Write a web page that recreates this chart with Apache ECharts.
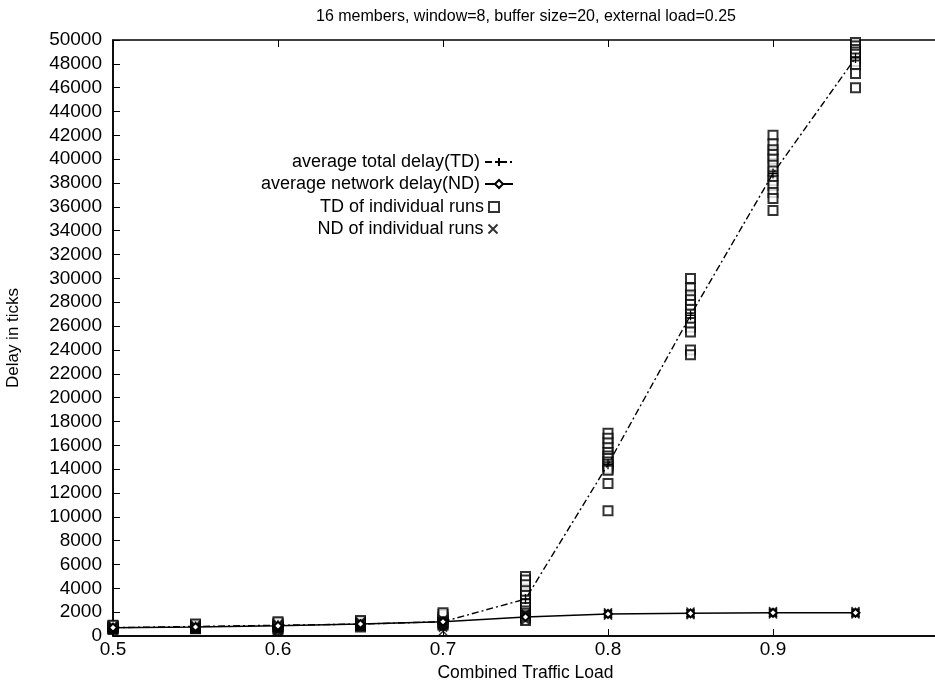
<!DOCTYPE html>
<html>
<head>
<meta charset="utf-8">
<script src="https://cdn.jsdelivr.net/npm/echarts@6/dist/echarts.min.js"></script>
<style>
  html, body { margin: 0; padding: 0; background: #fff; }
  #chart { width: 935px; height: 680px; }
</style>
</head>
<body>
<div id="chart"></div>
<script>
// combined traffic load (x)
const loads = [0.5, 0.55, 0.6, 0.65, 0.7, 0.75, 0.8, 0.85, 0.9, 0.95];
// average delays
const avgTD = [700, 800, 900, 1000, 1200, 3100, 14400, 26900, 38800, 48500];
const avgND = [700, 750, 850, 1000, 1200, 1600, 1850, 1900, 1950, 1950];
// individual runs, one list per load
const tdRuns = [
  [550, 600, 650, 700, 750, 800, 850, 900],
  [600, 650, 700, 750, 800, 850, 900, 1000],
  [500, 650, 750, 800, 900, 1000, 1100, 1200],
  [750, 850, 900, 950, 1000, 1100, 1200, 1300],
  [900, 1000, 1100, 1200, 1400, 1600, 1800, 1950],
  [5000, 4700, 4300, 3800, 3400, 3000, 2700, 2400, 2100, 1900, 1700, 1500, 1300],
  [17000, 16600, 16200, 15800, 15400, 15100, 14900, 14600, 14400, 14200, 14000, 13900, 12800, 10500],
  [30000, 29200, 28600, 28200, 27800, 27400, 27000, 26700, 26300, 25900, 25500, 24000, 23600],
  [42000, 41300, 40800, 40400, 40000, 39500, 39000, 38600, 38200, 37800, 37200, 36700, 35700],
  [49800, 49500, 49200, 49000, 48800, 48500, 48200, 47900, 47200, 46000]
];
const ndRuns = [
  [550, 650, 700, 750, 850],
  [600, 700, 750, 800, 900],
  [400, 600, 800, 900, 1000],
  [800, 900, 1000, 1100, 1200],
  [400, 700, 1000, 1200, 1400],
  [1300, 1450, 1600, 1750, 1900],
  [1700, 1800, 1850, 1900, 2000],
  [1750, 1850, 1900, 1950, 2050],
  [1800, 1900, 1950, 2000, 2100],
  [1800, 1900, 1950, 2000, 2100]
];
const yTicks = { min: 0, max: 50000, step: 2000 };

const font = 'Liberation Sans, Arial, Helvetica, sans-serif';
const plus = 'path://M0,5L10,5M5,0L5,10';
const cross = 'path://M0,0L10,10M10,0L0,10';

const pairs = (xs, ys) => xs.map((x, i) => [x, ys[i]]);
const runPoints = (runs) => {
  const pts = [];
  runs.forEach((vals, i) => vals.forEach(v => pts.push([loads[i], v])));
  return pts;
};

const legendText = { color: '#000', fontSize: 18, fontFamily: font };
const mkLegend = (item, top, right, w, h) => ({
  data: [item], top: top, right: right, align: 'right', orient: 'vertical',
  itemWidth: w, itemHeight: h, itemGap: 0, textStyle: legendText, selectedMode: false
});

const chart = echarts.init(document.getElementById('chart'));
chart.setOption({
  animation: false,
  backgroundColor: '#fff',
  title: {
    text: '16 members, window=8, buffer size=20, external load=0.25',
    left: 521, top: 4, textAlign: 'center',
    textStyle: { color: '#000', fontSize: 16, fontWeight: 'normal', fontFamily: font }
  },
  legend: [
    mkLegend('average total delay(TD)', 148, 416, 28, 10),
    mkLegend('average network delay(ND)', 170, 416, 28, 10),
    mkLegend({ name: 'TD of individual runs', icon: 'emptyRect' }, 193, 430, 10, 10),
    mkLegend({ name: 'ND of individual runs', icon: cross }, 215, 430, 9, 9)
  ],
  grid: {
    left: 113, right: -3, top: 40, bottom: 44,
    outerBoundsMode: 'none', containLabel: false,
    show: true, borderColor: '#000', borderWidth: 1.5
  },
  xAxis: [{
    type: 'value', min: 0.5, max: 1.0, interval: 0.1,
    name: 'Combined Traffic Load', nameLocation: 'middle', nameGap: 28,
    nameTextStyle: { color: '#000', fontSize: 17.5, fontFamily: font },
    axisLine: { lineStyle: { color: '#000', width: 1.5 } },
    axisTick: { inside: true, length: 7, lineStyle: { color: '#000' } },
    axisLabel: {
      color: '#000', fontSize: 19, fontFamily: font, margin: 4,
      formatter: v => (v >= 0.99 ? '' : v.toFixed(1))
    },
    splitLine: { show: false }
  }, {
    type: 'value', position: 'top', min: 0.5, max: 1.0, interval: 0.1,
    axisLine: { show: false },
    axisTick: { inside: true, length: 7, lineStyle: { color: '#000' } },
    axisLabel: { show: false },
    splitLine: { show: false }
  }],
  yAxis: {
    type: 'value', min: yTicks.min, max: yTicks.max, interval: yTicks.step,
    name: 'Delay in ticks', nameLocation: 'middle', nameGap: 91,
    nameTextStyle: { color: '#000', fontSize: 17, fontFamily: font },
    axisLine: { show: true, lineStyle: { color: '#000', width: 1.5 } },
    axisTick: { show: true, inside: true, length: 7, lineStyle: { color: '#000' } },
    axisLabel: {
      color: '#000', fontSize: 19, fontFamily: font, margin: 11,
      formatter: v => String(v)
    },
    splitLine: { show: false }
  },
  series: [
    {
      name: 'TD of individual runs', type: 'scatter',
      data: runPoints(tdRuns),
      symbol: 'emptyRect', symbolSize: 9,
      itemStyle: { color: '#000', borderColor: '#000', borderWidth: 1.5 },
      z: 3
    },
    {
      name: 'ND of individual runs', type: 'scatter',
      data: runPoints(ndRuns),
      symbol: cross, symbolSize: 8,
      itemStyle: { color: 'none', borderColor: '#000', borderWidth: 1.5 },
      z: 3
    },
    {
      name: 'average total delay(TD)', type: 'line',
      data: pairs(loads, avgTD),
      symbol: plus, symbolSize: 10, showAllSymbol: true,
      lineStyle: { color: '#000', width: 1.4, type: [7, 3, 2, 3] },
      itemStyle: { color: 'none', borderColor: '#000', borderWidth: 1.3 },
      z: 4
    },
    {
      name: 'average network delay(ND)', type: 'line',
      data: pairs(loads, avgND),
      symbol: 'emptyDiamond', symbolSize: 8, showAllSymbol: true,
      lineStyle: { color: '#000', width: 1.5 },
      itemStyle: { color: '#000', borderColor: '#000', borderWidth: 1.3 },
      z: 4
    }
  ]
});
</script>
</body>
</html>
